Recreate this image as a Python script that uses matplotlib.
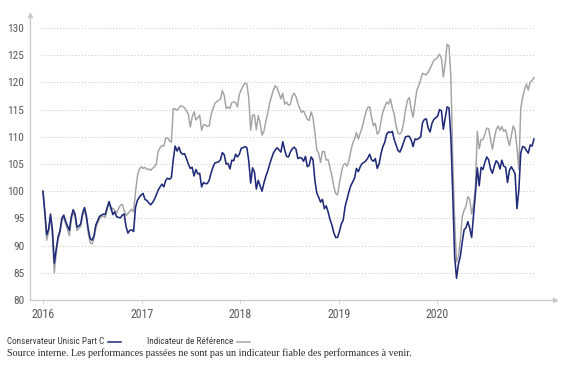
import matplotlib
matplotlib.use("Agg")
import matplotlib.pyplot as plt
from matplotlib.lines import Line2D
import pandas as pd

# ---------------- data (weekly, starting 2016-01-01) ----------------
start_date = "2016-01-01"

fund_values = [
    100.0, 96.2, 92.0, 93.0, 95.8, 93.0, 86.8, 89.3, 91.6, 92.7,
    95.0, 95.6, 94.5, 93.6, 92.8, 95.3, 96.6, 95.8, 93.4, 93.6,
    94.0, 96.0, 97.0, 95.5, 93.0, 91.3, 91.0, 91.8, 93.8, 94.6,
    95.4, 95.6, 95.8, 95.7, 97.0, 98.1, 97.0, 95.7, 96.2, 95.3,
    95.2, 95.1, 95.6, 95.8, 93.5, 92.3, 92.8, 92.9, 92.6, 97.0,
    98.3, 98.9, 99.3, 99.6, 98.5, 98.3, 97.9, 97.5, 97.9, 98.5,
    99.3, 100.2, 100.8, 101.3, 100.8, 102.0, 102.4, 102.2, 102.5, 105.8,
    108.3, 107.4, 108.1, 107.1, 106.8, 106.9, 106.0, 105.0, 104.2, 104.4,
    102.8, 104.0, 103.2, 103.3, 100.8, 101.6, 101.4, 101.4, 102.0, 103.3,
    104.4, 105.2, 105.3, 105.4, 105.8, 107.1, 106.7, 105.0, 105.1, 104.1,
    105.7, 105.6, 106.8, 106.3, 106.8, 107.9, 108.0, 108.2, 108.0, 105.5,
    101.5, 104.3, 103.5, 100.4, 102.0, 101.0, 100.0, 101.5, 102.7, 103.7,
    104.9, 106.0, 107.0, 107.6, 108.0, 107.6, 107.2, 109.1, 107.6, 106.4,
    106.3, 107.2, 107.8, 108.1, 107.7, 106.0, 106.2, 106.1, 105.5, 106.4,
    104.5, 104.8, 106.3, 105.8, 102.0, 99.7, 98.9, 98.0, 98.5, 96.8,
    97.3, 96.2, 94.8, 93.8, 92.4, 91.5, 91.5, 92.6, 94.0, 94.7,
    97.2, 98.5, 99.9, 101.0, 101.7, 102.4, 104.2, 103.6, 104.5, 105.1,
    105.3, 105.6, 106.1, 106.8, 105.8, 105.5, 106.0, 104.2, 105.0, 106.9,
    108.2, 109.0, 110.5, 110.9, 110.8, 111.0, 109.5, 108.5, 107.5, 107.2,
    108.0, 109.0, 110.0, 110.1, 110.1, 109.4, 108.2, 109.6, 109.5, 109.7,
    110.0, 112.6, 113.2, 113.3, 111.6, 110.9, 112.5, 113.2, 113.5, 113.8,
    115.0, 114.8, 111.4, 113.5, 115.5, 115.3, 110.0, 99.5, 88.0, 84.0,
    86.6, 88.0, 90.6, 92.9, 93.3, 94.4, 93.2, 91.5, 95.5, 99.6,
    104.3, 101.0, 104.4, 104.0, 105.3, 106.3, 105.8, 104.1, 103.3, 104.6,
    105.6, 105.2, 104.1, 105.7, 104.6, 104.4, 101.6, 103.8, 104.5, 103.9,
    103.2, 96.8, 100.2, 107.0, 108.2, 108.1, 107.5, 107.0, 108.5, 108.3,
    109.6,
]

index_values = [
    100.0, 95.8, 91.0, 92.5, 95.3, 92.0, 85.0, 88.5, 91.0, 92.3,
    94.5, 95.2, 94.0, 93.0, 91.8, 94.8, 96.0, 95.3, 92.8, 93.2,
    93.5, 95.5, 96.5, 95.0, 92.3, 90.5, 90.3, 91.2, 93.2, 94.2,
    95.0, 95.4, 95.4, 95.2, 96.6, 97.9, 96.5, 96.9, 96.5, 96.0,
    96.8, 97.4, 97.6, 96.5, 95.5, 95.9, 96.3, 96.7, 96.2, 99.8,
    102.8, 104.0, 104.5, 104.2, 104.4, 104.0, 104.1, 103.8, 104.2, 104.5,
    105.0, 107.3, 108.0, 108.4, 108.3, 109.8, 109.8, 109.3, 109.0, 115.2,
    115.1, 114.9, 115.3, 115.7, 115.6, 115.3, 114.8, 114.1, 111.8, 113.6,
    114.6, 113.1, 113.5, 114.0, 111.2, 112.2, 112.2, 111.9, 112.0, 114.0,
    115.1, 116.1, 116.5, 116.7, 116.9, 118.5, 117.6, 115.2, 115.5, 115.2,
    116.3, 116.4, 116.3, 115.5, 117.8, 118.7, 119.3, 119.9, 119.7, 117.0,
    111.2, 114.0, 114.0, 111.3, 113.9, 112.5, 110.3, 111.0, 112.8, 114.3,
    116.1, 117.4, 118.6, 119.4, 119.0, 118.0, 117.0, 118.0, 116.0, 116.4,
    115.8, 116.0, 117.5, 118.0, 117.4, 116.1, 115.2, 114.5, 114.8, 114.0,
    113.2, 113.0, 114.6, 113.5, 110.8, 107.6, 107.0, 105.3, 107.3, 107.3,
    105.7, 105.8, 104.3, 102.8, 100.9, 99.6, 99.3, 101.5, 103.4, 104.8,
    105.1, 104.6, 105.6, 107.4, 108.8, 109.6, 110.8, 109.6, 110.7, 111.6,
    113.2, 114.5, 115.4, 115.5, 113.6, 112.0, 112.5, 110.5, 110.9, 112.8,
    114.6, 115.5, 116.4, 116.0, 117.0, 115.3, 114.2, 112.0, 110.7, 110.5,
    111.0, 112.6, 114.9, 116.7, 117.2, 115.0, 113.6, 116.3, 118.6, 119.4,
    120.5, 121.7, 121.5, 121.4, 121.9, 122.6, 123.3, 124.1, 124.3, 124.6,
    125.2, 124.5, 121.0, 123.5, 127.0, 126.8, 121.0, 106.0, 94.5, 87.0,
    88.0, 91.0, 95.2, 96.5, 97.2, 99.0, 98.5, 95.8, 97.5, 100.7,
    111.0, 107.8, 109.5, 109.5, 110.5, 111.6, 111.5, 109.6, 107.7, 109.7,
    111.3, 112.0, 111.2, 111.9, 111.0, 111.3, 109.8, 108.4, 110.2, 112.0,
    111.2, 108.0, 104.0, 115.2, 117.2, 118.7, 119.7, 118.6, 120.1, 120.3,
    120.9,
]

y_ticks = [80, 85, 90, 95, 100, 105, 110, 115, 120, 125, 130]
x_tick_years = ["2016", "2017", "2018", "2019", "2020"]
fund_name = "Conservateur Unisic Part C"
index_name = "Indicateur de Référence"
source_text = ("Source interne. Les performances passées ne sont pas un "
               "indicateur fiable des performances à venir.")

# ---------------- styling ----------------
NAVY = "#1f2a78"
GREY = "#a3a3a3"
AXIS = "#c9c9c9"
TICK = "#5a5a5a"
SANS = ["Roboto Condensed", "Roboto", "DejaVu Sans"]
SERIF = ["Liberation Serif", "DejaVu Serif"]

dates = pd.date_range(start_date, periods=len(fund_values), freq="7D")

W, H = 562, 369
fig = plt.figure(figsize=(W / 100, H / 100), dpi=100)
ax = fig.add_axes([30 / W, 1 - 300 / H, (555 - 30) / W, (300 - 15) / H])

ax.plot(dates, index_values, color=GREY, lw=1.05, zorder=3)
ax.plot(dates, fund_values, color=NAVY, lw=1.15, zorder=4)

ax.set_xlim(pd.Timestamp("2015-11-14"), pd.Timestamp("2021-03-13"))
ax.set_ylim(80, 132.4)

# dotted gridlines
ax.hlines(y_ticks[1:], pd.Timestamp("2015-12-24"), pd.Timestamp("2020-12-30"),
          colors="#c4c4c4", linestyles=(0, (1, 2.2)), lw=0.7, zorder=1)

ax.set_yticks(y_ticks)
ax.set_yticklabels([str(v) for v in y_ticks], fontfamily=SANS, fontsize=8.2,
                   color=TICK)
ax.set_xticks([pd.Timestamp(y + "-01-01") for y in x_tick_years])
ax.set_xticklabels(x_tick_years, fontfamily=SANS, fontsize=8.6, color=TICK)
ax.tick_params(axis="y", length=0, pad=4)
ax.tick_params(axis="x", length=2, width=0.6, color=AXIS, pad=4)

for s in ["top", "right"]:
    ax.spines[s].set_visible(False)
for s in ["left", "bottom"]:
    ax.spines[s].set_color(AXIS)
    ax.spines[s].set_linewidth(0.9)

# axis arrows
ax.plot(1, 0, marker=">", ms=3, color=AXIS, transform=ax.transAxes,
        clip_on=False)
ax.plot(0, 1, marker="^", ms=3, color=AXIS, transform=ax.transAxes,
        clip_on=False)

# legend (text + line sample)
renderer = fig.canvas.get_renderer()


def legend_item(x0, label, color):
    t = fig.text(x0 / W, 1 - 341.5 / H, label, fontfamily=SANS, fontsize=6.6,
                 color="#3a3a3a", va="center", ha="left")
    bb = t.get_window_extent(renderer=renderer)
    xe = bb.x1 + 4
    fig.add_artist(Line2D([xe / W, (xe + 13) / W], [1 - 342 / H] * 2,
                          color=color, lw=1.1, transform=fig.transFigure))


legend_item(7, fund_name, NAVY)
legend_item(147, index_name, GREY)

fig.text(7 / W, 1 - 353 / H, source_text, fontfamily=SERIF, fontsize=7.3,
         color="#2a2a2a", va="center", ha="left")

fig.savefig("out.png", dpi=100)
